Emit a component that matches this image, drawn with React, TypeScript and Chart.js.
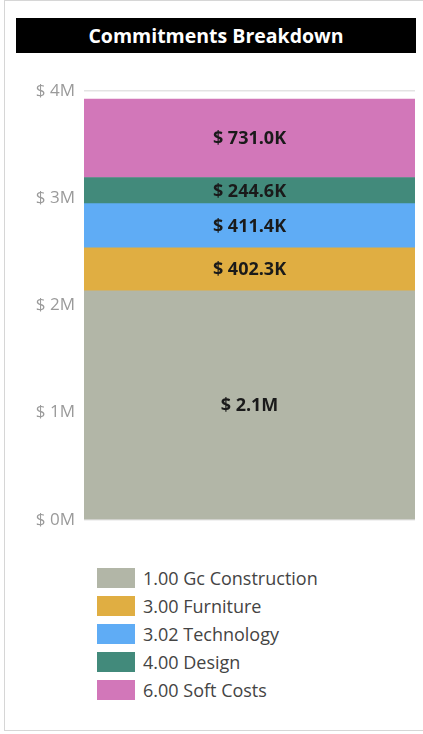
import React, { useEffect, useRef } from "react";
import { Chart, registerables } from "chart.js";

Chart.register(...registerables);

const categories = ["Commitments"];
const seriesNames = [
  "1.00 Gc Construction",
  "3.00 Furniture",
  "3.02 Technology",
  "4.00 Design",
  "6.00 Soft Costs",
];
const gcValues = [2135000];
const furnitureValues = [402300];
const technologyValues = [411400];
const designValues = [244600];
const softCostValues = [731000];
const seriesColors = ["#B2B6A7", "#E0AE42", "#5FACF5", "#428A7B", "#D277B9"];
const tickValues = [0, 1000000, 2000000, 3000000, 4000000];

const FONT = "'Open Sans', 'Noto Sans', sans-serif";

function fmtValue(v: number): string {
  if (v >= 1e6) return "$ " + (v / 1e6).toFixed(1) + "M";
  return "$ " + (v / 1e3).toFixed(1) + "K";
}

const labelPlugin = {
  id: "segLabels",
  afterDatasetsDraw(chart: any) {
    const ctx = chart.ctx;
    ctx.save();
    ctx.font = "bold 18px " + FONT;
    ctx.fillStyle = "#1a1a1a";
    ctx.textAlign = "center";
    ctx.textBaseline = "middle";
    chart.data.datasets.forEach((ds: any, i: number) => {
      const meta = chart.getDatasetMeta(i);
      meta.data.forEach((bar: any, j: number) => {
        const v = ds.data[j];
        const y = (bar.y + bar.base) / 2;
        ctx.fillText(fmtValue(v), bar.x, y + 1);
      });
    });
    ctx.restore();
  },
};

export default function App() {
  const ref = useRef<HTMLCanvasElement>(null);
  useEffect(() => {
    if (!ref.current) return;
    const allSeries = [gcValues, furnitureValues, technologyValues, designValues, softCostValues];
    const chart = new Chart(ref.current, {
      type: "bar",
      data: {
        labels: categories,
        datasets: allSeries.map((d, i) => ({
          label: seriesNames[i],
          data: d,
          backgroundColor: seriesColors[i],
          borderWidth: 0,
          barPercentage: 1,
          categoryPercentage: 1,
        })),
      },
      options: {
        animation: false,
        responsive: false,
        maintainAspectRatio: false,
        layout: { padding: { top: 21, right: 8, bottom: 0, left: 0 } },
        plugins: {
          legend: { display: false },
          tooltip: { enabled: false },
          title: { display: false },
        },
        scales: {
          x: { stacked: true, display: false },
          y: {
            stacked: true,
            min: 0,
            max: 4000000,
            afterBuildTicks: (axis: any) => {
              axis.ticks = tickValues.map((v) => ({ value: v }));
            },
            afterFit: (axis: any) => {
              axis.width = 84;
            },
            border: { display: false },
            grid: { color: "#e3e3e3", lineWidth: 1.5, drawTicks: false },
            ticks: {
              padding: 9,
              color: "#9a9a9a",
              font: { family: FONT, size: 17 },
              callback: (v: any) => "$ " + Number(v) / 1e6 + "M",
            },
          },
        },
      },
      plugins: [labelPlugin],
    });
    return () => chart.destroy();
  }, []);

  return (
    <div
      style={{
        position: "fixed",
        left: 0,
        top: 0,
        width: 423,
        height: 734,
        background: "#fff",
        fontFamily: FONT,
      }}
    >
      <div
        style={{
          position: "absolute",
          left: 4,
          top: 0,
          width: 420,
          height: 731,
          border: "1px solid #d6d6d6",
          boxSizing: "border-box",
        }}
      />
      <div
        style={{
          position: "absolute",
          left: 16,
          top: 18,
          width: 400,
          height: 35,
          background: "#000",
          color: "#fff",
          fontWeight: 700,
          fontSize: 19.5,
          lineHeight: "35px",
          textAlign: "center",
        }}
      >
        Commitments Breakdown
      </div>
      <canvas
        ref={ref}
        width={423}
        height={469}
        style={{ position: "absolute", left: 0, top: 70, width: 423, height: 469 }}
      />
      <div style={{ position: "absolute", left: 97, top: 568 }}>
        {seriesNames.map((name, i) => (
          <div
            key={name}
            style={{ display: "flex", alignItems: "center", height: 28, marginTop: i === 0 ? -4 : 0 }}
          >
            <div style={{ width: 38, height: 20, background: seriesColors[i], marginRight: 8 }} />
            <span style={{ fontSize: 18, color: "#444" }}>{name}</span>
          </div>
        ))}
      </div>
    </div>
  );
}
